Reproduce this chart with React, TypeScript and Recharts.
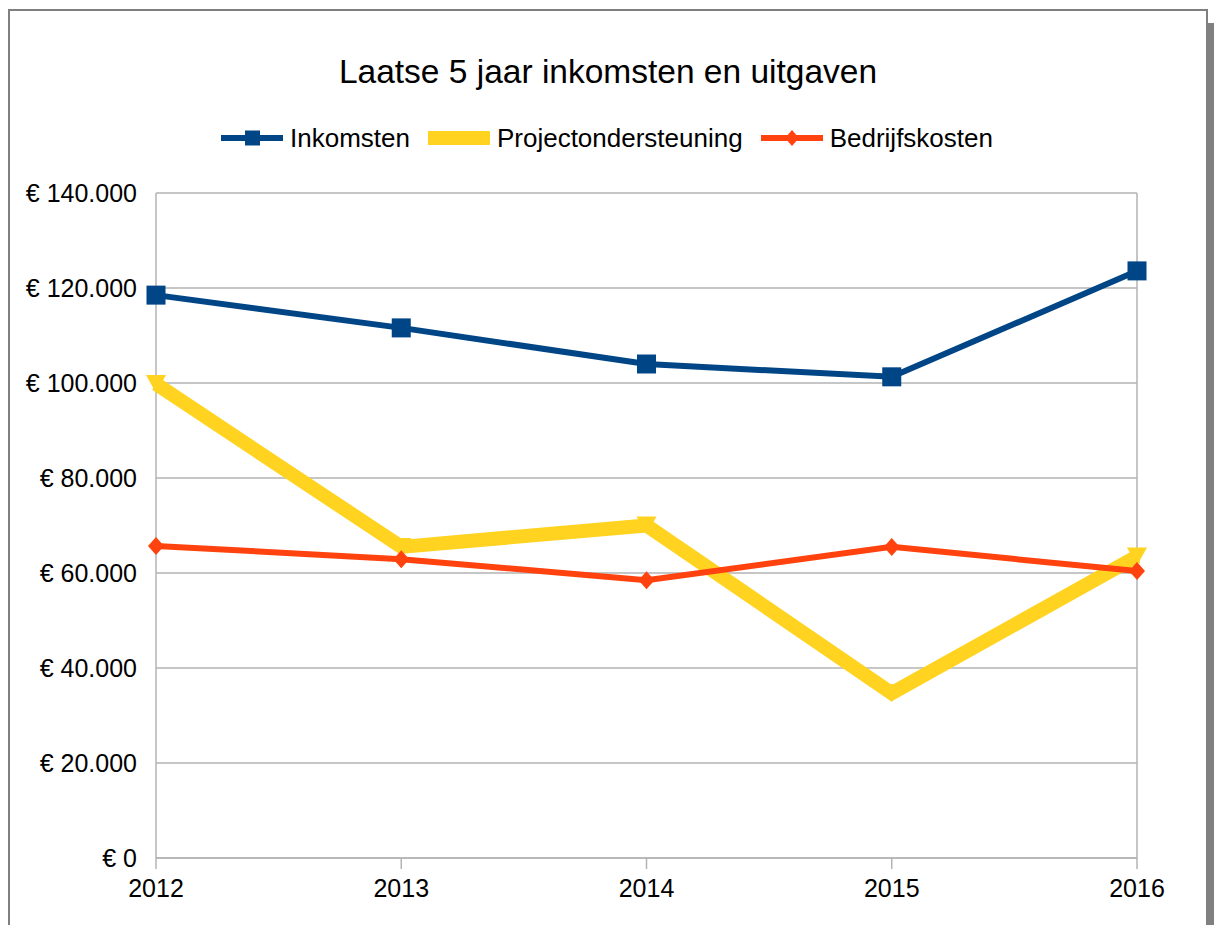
import { LineChart, Line, XAxis, YAxis, CartesianGrid, ReferenceLine } from 'recharts'

const years = ['2012', '2013', '2014', '2015', '2016']
const inkomsten = [118500, 111600, 104000, 101300, 123600]
const projectondersteuning = [99800, 65500, 70000, 34700, 63500]
const bedrijfskosten = [65700, 62900, 58500, 65500, 60400]
const yTicks = [0, 20000, 40000, 60000, 80000, 100000, 120000, 140000]

const BLUE = '#004586'
const YELLOW = '#ffd320'
const ORANGE = '#ff420e'
const GRID = '#b3b3b3'
const FONT = '"Liberation Sans", Arial, sans-serif'

const data = years.map((year, i) => ({
  year,
  inkomsten: inkomsten[i],
  projectondersteuning: projectondersteuning[i],
  bedrijfskosten: bedrijfskosten[i],
}))

const euro = (v: number) => '€ ' + String(v).replace(/\B(?=(\d{3})+(?!\d))/g, '.')

function SquareDot({ cx, cy }: { cx?: number; cy?: number }) {
  if (cx == null || cy == null) return null
  return <rect x={cx - 9.5} y={cy - 9.5} width={19} height={19} fill={BLUE} />
}

function TriangleDot({ cx, cy }: { cx?: number; cy?: number }) {
  if (cx == null || cy == null) return null
  return <polygon points={`${cx - 10},${cy - 9} ${cx + 10},${cy - 9} ${cx},${cy + 9}`} fill={YELLOW} />
}

function DiamondDot({ cx, cy }: { cx?: number; cy?: number }) {
  if (cx == null || cy == null) return null
  return <polygon points={`${cx},${cy - 9} ${cx + 8},${cy} ${cx},${cy + 9} ${cx - 8},${cy}`} fill={ORANGE} />
}

function LegendItem({ label, color, width, marker }: { label: string; color: string; width: number; marker: 'square' | 'none' | 'diamond' }) {
  return (
    <div style={{ display: 'flex', alignItems: 'center', marginRight: 18 }}>
      <svg width={62} height={20} style={{ marginRight: 7 }}>
        <line x1={0} x2={62} y1={10} y2={10} stroke={color} strokeWidth={width} />
        {marker === 'square' && <rect x={24} y={2.5} width={15} height={15} fill={color} />}
        {marker === 'diamond' && <polygon points="31,2 38,10 31,18 24,10" fill={color} />}
      </svg>
      <span>{label}</span>
    </div>
  )
}

export default function App() {
  return (
    <div style={{ position: 'absolute', left: 0, top: 0, width: 1214, height: 925, background: '#fff', fontFamily: FONT, overflow: 'hidden' }}>
      <div style={{ position: 'absolute', left: 1208, top: 23, width: 6, height: 925, background: '#808080' }} />
      <div style={{ position: 'absolute', left: 8, top: 9, width: 1196, height: 940, border: '2px solid #7f7f7f', background: '#fff' }} />

      <div style={{ position: 'absolute', left: 9, width: 1198, top: 53, textAlign: 'center', fontSize: 33.5, lineHeight: '38px', color: '#000' }}>
        Laatse 5 jaar inkomsten en uitgaven
      </div>

      <div style={{ position: 'absolute', left: 17, width: 1198, top: 123, display: 'flex', justifyContent: 'center', fontSize: 26, lineHeight: '30px', color: '#000' }}>
        <LegendItem label="Inkomsten" color={BLUE} width={6} marker="square" />
        <LegendItem label="Projectondersteuning" color={YELLOW} width={14} marker="none" />
        <LegendItem label="Bedrijfskosten" color={ORANGE} width={6} marker="diamond" />
      </div>

      <div style={{ position: 'absolute', left: 0, top: 0 }}>
        <LineChart width={1214} height={925} data={data} margin={{ top: 193, right: 77, bottom: 0, left: 0 }}>
          <CartesianGrid vertical={false} stroke={GRID} strokeWidth={1.5} />
          <XAxis
            dataKey="year"
            height={67}
            axisLine={{ stroke: GRID, strokeWidth: 1.5 }}
            tickLine={{ stroke: GRID, strokeWidth: 1.5 }}
            tickSize={11}
            tickMargin={10}
            tick={{ fill: '#000', fontSize: 25, fontFamily: FONT }}
            interval={0}
          />
          <YAxis
            width={156}
            domain={[0, 140000]}
            ticks={yTicks}
            tickFormatter={euro}
            axisLine={{ stroke: GRID, strokeWidth: 1.5 }}
            tickLine={false}
            tickSize={0}
            tickMargin={19}
            tick={{ fill: '#000', fontSize: 25, fontFamily: FONT }}
          />
          <ReferenceLine x="2016" stroke={GRID} strokeWidth={1.5} />
          <Line dataKey="inkomsten" stroke={BLUE} strokeWidth={6} dot={<SquareDot />} activeDot={false} isAnimationActive={false} />
          <Line dataKey="projectondersteuning" stroke={YELLOW} strokeWidth={14} strokeLinejoin="miter" dot={<TriangleDot />} activeDot={false} isAnimationActive={false} />
          <Line dataKey="bedrijfskosten" stroke={ORANGE} strokeWidth={6} dot={<DiamondDot />} activeDot={false} isAnimationActive={false} />
        </LineChart>
      </div>
    </div>
  )
}
